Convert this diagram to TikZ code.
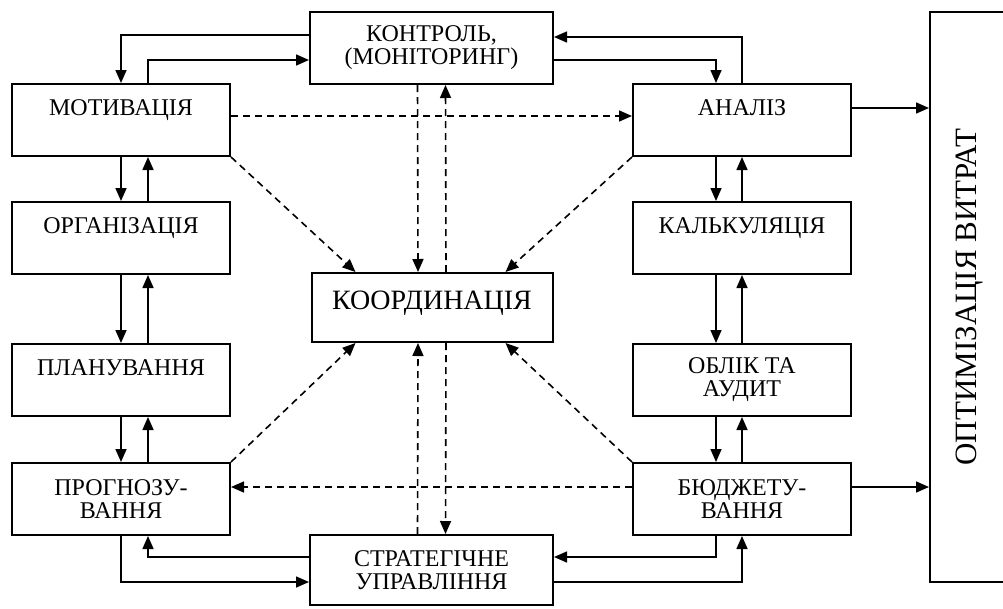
\documentclass[tikz,border=0pt]{standalone}
\usepackage{fontspec}
\setmainfont{Liberation Serif}
\usetikzlibrary{arrows.meta}

\begin{document}
\begin{tikzpicture}[x=1pt,y=-1pt,
	box/.style={draw,line width=2pt,minimum width=218pt,minimum height=72pt,align=center,inner sep=0pt,font=\fontsize{24}{23}\selectfont},
	wide/.style={box,minimum width=243pt},
	oneline/.style={text depth=24pt},
	arr/.style={line width=1.6pt,-{Triangle[length=13pt,width=11pt]}},
	darr/.style={arr,dash pattern=on 7pt off 5pt}]
	\useasboundingbox (0,0) rectangle (1003,608);
	% left column
	\node[box,oneline] (mot) at (121,120) {МОТИВАЦІЯ};
	\node[box,oneline] (org) at (121,238) {ОРГАНІЗАЦІЯ};
	\node[box,oneline] (plan) at (121,380) {ПЛАНУВАННЯ};
	\node[box] (prog) at (121,499) {ПРОГНОЗУ-\\ВАННЯ};
	% middle column
	\node[wide] (ctrl) at (431.5,48) {КОНТРОЛЬ,\\(МОНІТОРИНГ)};
	\node[wide,minimum width=241pt,minimum height=69pt,font=\fontsize{28}{28}\selectfont,text depth=15pt] (coord) at (432,307.5) {КООРДИНАЦІЯ};
	\node[wide,minimum height=70pt] (strat) at (431.5,570) {СТРАТЕГІЧНЕ\\УПРАВЛІННЯ};
	% right column
	\node[box,oneline] (anal) at (742,120) {АНАЛІЗ};
	\node[box,oneline] (calc) at (742,238) {КАЛЬКУЛЯЦІЯ};
	\node[box] (audit) at (742,380) {ОБЛІК ТА\\АУДИТ};
	\node[box] (budg) at (742,499) {БЮДЖЕТУ-\\ВАННЯ};
	\node[box,rotate=90,minimum width=570pt,minimum height=80pt,font=\fontsize{31}{31}\selectfont] (opt) at (970,297) {ОПТИМІЗАЦІЯ ВИТРАТ};

	\draw[arr] (mot.south)--(org.north);
	\draw[arr] ([xshift=27pt]org.north)--([xshift=27pt]mot.south);
	\draw[arr] (org.south)--(plan.north);
	\draw[arr] ([xshift=27pt]plan.north)--([xshift=27pt]org.south);
	\draw[arr] (plan.south)--(prog.north);
	\draw[arr] ([xshift=27pt]prog.north)--([xshift=27pt]plan.south);
	\draw[arr] ([xshift=-26pt]anal.south)--([xshift=-26pt]calc.north);
	\draw[arr] (calc.north)--(anal.south);
	\draw[arr] ([xshift=-26pt]calc.south)--([xshift=-26pt]audit.north);
	\draw[arr] (audit.north)--(calc.south);
	\draw[arr] ([xshift=-26pt]audit.south)--([xshift=-26pt]budg.north);
	\draw[arr] (budg.north)--(audit.south);

	\draw[arr] ([yshift=13pt]ctrl.west) -| (mot.north);
	\draw[arr] ([xshift=27pt]mot.north) |- ([yshift=-12pt]ctrl.west);
	\draw[arr] (anal.north) |- ([yshift=11pt]ctrl.east);
	\draw[arr] ([yshift=-12pt]ctrl.east) -| ([xshift=-26pt]anal.north);
	\draw[arr] (prog.south) |- ([yshift=-12pt]strat.west);
	\draw[arr] ([yshift=13pt]strat.west) -| ([xshift=27pt]prog.south);
	\draw[arr] ([xshift=-26pt]budg.south) |- ([yshift=13pt]strat.east);
	\draw[arr] ([yshift=-12pt]strat.east) -| (budg.south);
	\draw[arr] ([yshift=12pt]anal.east)--([yshift=12pt]anal.east -| opt.north);
	\draw[arr] ([yshift=12pt]budg.east)--([yshift=12pt]budg.east -| opt.north);

	% dashed links
	\draw[darr] ([yshift=4pt]mot.east)--([yshift=4pt]anal.west);
	\draw[darr] ([yshift=12pt]budg.west)--([yshift=12pt]prog.east);
	\draw[darr] ([xshift=-14pt]ctrl.south)--([xshift=-14pt]coord.north);
	\draw[darr] ([xshift=14pt]coord.north)--([xshift=14pt]ctrl.south);
	\draw[darr] ([xshift=-14pt]strat.north)--([xshift=-14pt]coord.south);
	\draw[darr] ([xshift=14pt]coord.south)--([xshift=14pt]strat.north);
	\draw[darr] (mot.south east)--([xshift=45pt]coord.north west);
	\draw[darr] (anal.south west)--([xshift=-48pt]coord.north east);
	\draw[darr] (prog.north east)--([xshift=45pt]coord.south west);
	\draw[darr] (budg.north west)--([xshift=-48pt]coord.south east);
\end{tikzpicture}
\end{document}
